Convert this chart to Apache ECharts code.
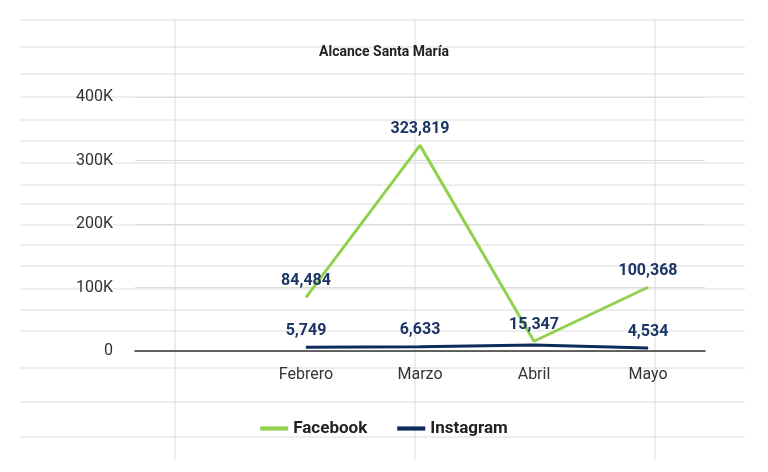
<!DOCTYPE html>
<html><head><meta charset="utf-8">
<script src="https://cdn.jsdelivr.net/npm/echarts@6/dist/echarts.min.js"></script>
<style>html,body{margin:0;padding:0;background:#fff}#c{width:768px;height:472px}</style>
</head><body><div id="c"></div>
<script>
const categories = ['', 'Febrero', 'Marzo', 'Abril', 'Mayo'];
const facebook = [null, 84484, 323819, 15347, 100368];
const instagram = [null, 5749, 6633, 9500, 4534];
const instagramLabels = [true, true, true, false, true];
const yTicks = [0, 100000, 200000, 300000, 400000];

const chart = echarts.init(document.getElementById('c'));
const bg = [];
const hs = [20,47,74,97,120,141,163,185,204,225,245,266,289,310,331,368,402,437];
hs.forEach(y => bg.push({type:'line', shape:{x1:20,y1:y,x2:745,y2:y}, style:{stroke:'#dcdcdc',lineWidth:1}, z:-10}));
[175,415,655].forEach(x => bg.push({type:'line', shape:{x1:x,y1:20,x2:x,y2:460}, style:{stroke:'#dcdcdc',lineWidth:1}, z:-10}));

const lbl = {show:true, position:'top', distance:8, fontSize:16, fontWeight:'bold', color:'#1a3566'};
chart.setOption({
  textStyle:{fontFamily:'Roboto'},
  graphic: bg,
  title:{text:'Alcance Santa María', left:'center', top:40, textStyle:{fontSize:14,fontWeight:'bold',color:'#222',fontFamily:'Roboto'}},
  legend:{bottom:30, itemWidth:28, itemGap:30, icon:'path://M0,0h10v1.5h-10z',
    textStyle:{fontSize:17,fontWeight:'bold',color:'#222'}, data:['Facebook','Instagram']},
  grid:{left:135, right:63, top:97, bottom:121},
  xAxis:{type:'category', data:categories, boundaryGap:true,
    axisLine:{lineStyle:{color:'#333',width:1.5}}, axisTick:{show:false},
    axisLabel:{fontSize:16,color:'#333',margin:16}},
  yAxis:{type:'value', min:0, max:400000, interval:100000,
    axisLabel:{fontSize:16,color:'#333',margin:22, formatter:v => yTicks.includes(v) ? (v===0?'0':(v/1000)+'K') : ''},
    splitLine:{lineStyle:{color:'#dcdcdc'}}},
  series:[
    {name:'Facebook', type:'line', data:facebook, symbol:'circle', symbolSize:1, showSymbol:true, color:'#92d050', lineStyle:{width:3},
     label:Object.assign({}, lbl, {formatter:p => p.value==null?'':p.value.toLocaleString('en-US')})},
    {name:'Instagram', type:'line', data:instagram, symbol:'circle', symbolSize:1, showSymbol:true, color:'#0d2a5c', lineStyle:{width:3},
     label:Object.assign({}, lbl, {formatter:p => (p.value==null||!instagramLabels[p.dataIndex])?'':p.value.toLocaleString('en-US')})}
  ]
});
</script></body></html>
